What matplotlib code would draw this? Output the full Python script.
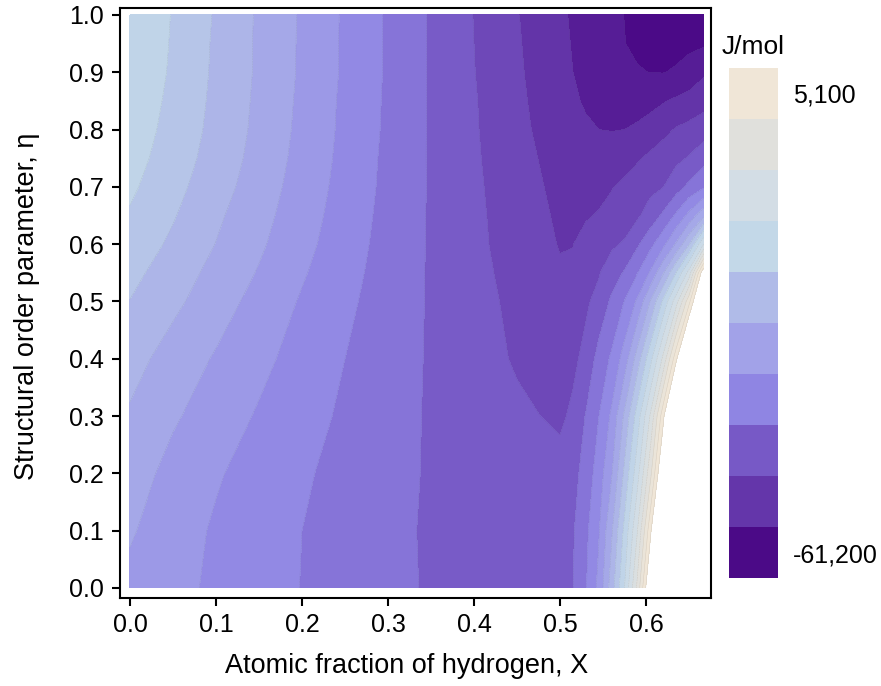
import numpy as np
import matplotlib
matplotlib.use("Agg")
import matplotlib.pyplot as plt
from matplotlib.colors import LinearSegmentedColormap, ListedColormap, BoundaryNorm, Normalize
from matplotlib.cm import ScalarMappable

plt.rcParams['font.family'] = ['Liberation Sans', 'DejaVu Sans']

# ---------------- data ----------------
# atomic fraction of hydrogen (grid columns)
x_frac = [0.0, 0.05, 0.10, 0.15, 0.20, 0.25, 0.30, 0.35, 0.40, 0.45, 0.50,
          0.515, 0.53, 0.545, 0.56, 0.575, 0.59, 0.605, 0.62, 0.635, 0.65, 0.667]
# structural order parameter (grid rows)
eta = [0.0, 0.1, 0.2, 0.3, 0.4, 0.5, 0.55, 0.6, 0.65, 0.7, 0.75, 0.8, 0.85, 0.9, 0.95, 1.0]

# Gibbs energy estimates, kJ/mol, one list per eta row (values > 8 are outside the filled region)
g_eta_000 = [-33.0, -34.9, -36.7, -38.4, -40.1, -41.6, -43.0, -44.4, -45.4, -45.8, -45.2,
             -44.1, -40.3, -35.0, -26.0, -16.0, -3.0, 14.0, 30.0, 46.0, 62.0, 80.0]
g_eta_010 = [-31.6, -34.2, -36.5, -38.3, -40.0, -41.5, -43.0, -44.5, -45.6, -46.2, -45.6,
             -44.4, -40.9, -36.4, -28.6, -19.0, -8.1, 6.8, 25.0, 42.0, 58.0, 75.0]
g_eta_020 = [-30.1, -33.3, -35.6, -37.6, -39.5, -41.2, -42.8, -44.4, -45.8, -46.9, -46.8,
             -45.3, -42.5, -38.1, -32.4, -23.2, -13.5, -1.3, 14.2, 32.0, 50.0, 68.0]
g_eta_030 = [-28.5, -31.5, -34.0, -36.4, -38.6, -40.6, -42.6, -44.4, -46.0, -47.3, -48.6,
             -47.4, -43.8, -40.1, -35.3, -27.3, -18.2, -7.6, 6.8, 24.8, 42.0, 60.0]
g_eta_040 = [-26.5, -29.7, -32.4, -35.0, -37.5, -40.0, -42.2, -44.4, -46.4, -48.4, -49.5,
             -48.7, -47.1, -42.5, -39.4, -34.2, -26.2, -17.4, -7.0, 6.9, 23.4, 42.0]
g_eta_050 = [-24.1, -27.1, -30.25, -33.35, -36.4, -39.2, -41.8, -44.4, -46.7, -48.9, -51.0,
             -50.3, -48.5, -47.0, -43.25, -39.9, -35.4, -27.9, -19.3, -9.7, 2.7, 20.7]
g_eta_055 = [-22.9, -26.0, -29.2, -32.3, -35.6, -38.7, -41.6, -44.4, -46.9, -49.3, -51.6,
             -51.3, -49.8, -48.3, -46.1, -43.6, -40.2, -35.6, -28.5, -20.0, -10.4, 12.0]
g_eta_060 = [-21.7, -24.7, -28.1, -31.4, -34.8, -38.2, -41.4, -44.4, -47.1, -49.7, -52.2,
             -52.1, -50.6, -49.4, -48.6, -47.6, -44.6, -41.2, -37.1, -31.6, -24.5, -12.0]
g_eta_065 = [-20.4, -23.7, -27.3, -30.7, -34.2, -37.8, -41.2, -44.4, -47.2, -49.9, -52.6,
             -53.0, -52.4, -51.7, -50.9, -49.9, -48.6, -46.3, -43.3, -39.4, -34.9, -29.0]
g_eta_070 = [-19.3, -22.8, -26.3, -30.0, -33.7, -37.4, -41.0, -44.35, -47.3, -50.3, -53.0,
             -53.7, -53.9, -53.3, -52.2, -51.2, -50.2, -49.0, -48.1, -45.7, -43.1, -40.5]
g_eta_075 = [-18.4, -22.0, -25.6, -29.4, -33.3, -37.1, -40.9, -44.4, -47.45, -50.7, -53.4,
             -54.2, -54.8, -55.0, -54.6, -53.6, -52.4, -51.2, -50.0, -48.9, -47.7, -45.5]
g_eta_080 = [-17.7, -21.4, -25.15, -29.0, -33.0, -36.9, -40.7, -44.4, -47.6, -51.0, -54.0,
             -54.9, -55.5, -56.0, -56.1, -56.0, -55.4, -54.5, -53.1, -51.7, -50.9, -49.8]
g_eta_085 = [-17.1, -21.0, -24.9, -28.8, -32.8, -36.8, -40.6, -44.4, -47.7, -51.2, -54.5,
             -55.5, -56.4, -57.0, -57.5, -57.8, -57.7, -57.1, -56.3, -55.4, -54.6, -53.5]
g_eta_090 = [-16.6, -20.6, -24.7, -28.6, -32.6, -36.6, -40.5, -44.4, -47.9, -51.4, -55.0,
             -56.0, -57.0, -57.9, -58.7, -59.3, -59.8, -60.05, -60.1, -59.7, -58.6, -56.6]
g_eta_095 = [-16.4, -20.4, -24.6, -28.6, -32.55, -36.6, -40.5, -44.4, -48.0, -51.6, -55.2,
             -56.2, -57.2, -58.1, -59.0, -59.95, -60.5, -60.8, -60.9, -60.9, -60.8, -60.5]
g_eta_100 = [-16.2, -20.25, -24.4, -28.55, -32.5, -36.55, -40.5, -44.4, -48.1, -51.8, -55.4,
             -56.4, -57.4, -58.4, -59.2, -60.05, -60.6, -60.9, -61.1, -61.2, -61.2, -61.1]

g_rows = [g_eta_000, g_eta_010, g_eta_020, g_eta_030, g_eta_040, g_eta_050, g_eta_055,
          g_eta_060, g_eta_065, g_eta_070, g_eta_075, g_eta_080, g_eta_085, g_eta_090,
          g_eta_095, g_eta_100]

# contour levels (J/mol) and colour scale
contour_levels = list(range(-64000, 8001, 4000))
scale_min, scale_max = -61200, 5100
scale_colors = ['#4b0a87', '#6436aa', '#7759c6', '#8f85e3', '#a2a2e8',
                '#b0bbe8', '#c3d8e8', '#d3dde5', '#e0e0dc', '#f0e6d7']
colorbar_ticks = [-61200, 5100]
colorbar_ticklabels = ['-61,200', '5,100']
x_ticks = [0.0, 0.1, 0.2, 0.3, 0.4, 0.5, 0.6]
y_ticks = [0.0, 0.1, 0.2, 0.3, 0.4, 0.5, 0.6, 0.7, 0.8, 0.9, 1.0]

# ---------------- figure ----------------
W, H = 881, 686
fig = plt.figure(figsize=(W / 100, H / 100), dpi=100)
ax = fig.add_axes([119.5 / W, 1 - 598 / H, (711 - 119.5) / W, 590 / H])

G = np.array(g_rows) * 1000.0
cmap = LinearSegmentedColormap.from_list('gscale', scale_colors)
norm = Normalize(vmin=scale_min, vmax=scale_max)
ax.contourf(x_frac, eta, G, levels=contour_levels, cmap=cmap, norm=norm)
ax.contour(x_frac, eta, G, levels=contour_levels, colors='#555555', linewidths=0.35, alpha=0.18)

ax.set_xlim(-0.0122, 0.6756)
ax.set_ylim(-0.0175, 1.0122)
ax.set_xticks(x_ticks)
ax.set_yticks(y_ticks)
ax.set_xticklabels([f'{v:.1f}' for v in x_ticks])
ax.set_yticklabels([f'{v:.1f}' for v in y_ticks])
for s in ax.spines.values():
    s.set_linewidth(1.5)
    s.set_color('black')
ax.tick_params(axis='both', direction='out', length=6, width=1.5, labelsize=18, pad=5,
               top=False, right=False)

ax.set_xlabel('Atomic fraction of hydrogen, X', fontsize=19.5)
ax.set_ylabel('Structural order parameter, η', fontsize=19.5)
ax.xaxis.set_label_coords(0.485, -0.093)
ax.yaxis.set_label_coords(-0.135, 0.495)

# colour bar
cax = fig.add_axes([729 / W, 1 - 578 / H, 49 / W, 510 / H])
step = (scale_max - scale_min) / (len(scale_colors) - 1)
bounds = np.linspace(scale_min - step / 2, scale_max + step / 2, len(scale_colors) + 1)
sm = ScalarMappable(norm=BoundaryNorm(bounds, len(scale_colors)), cmap=ListedColormap(scale_colors))
cb = fig.colorbar(sm, cax=cax, ticks=colorbar_ticks)
cb.ax.minorticks_off()
cb.ax.set_yticklabels(colorbar_ticklabels)
cb.outline.set_visible(False)
cb.ax.tick_params(which='both', length=0, labelsize=18, pad=11)
fig.text(722 / W, 1 - 47 / H, 'J/mol', fontsize=19, ha='left', va='center')

fig.savefig('out.png', dpi=100)
